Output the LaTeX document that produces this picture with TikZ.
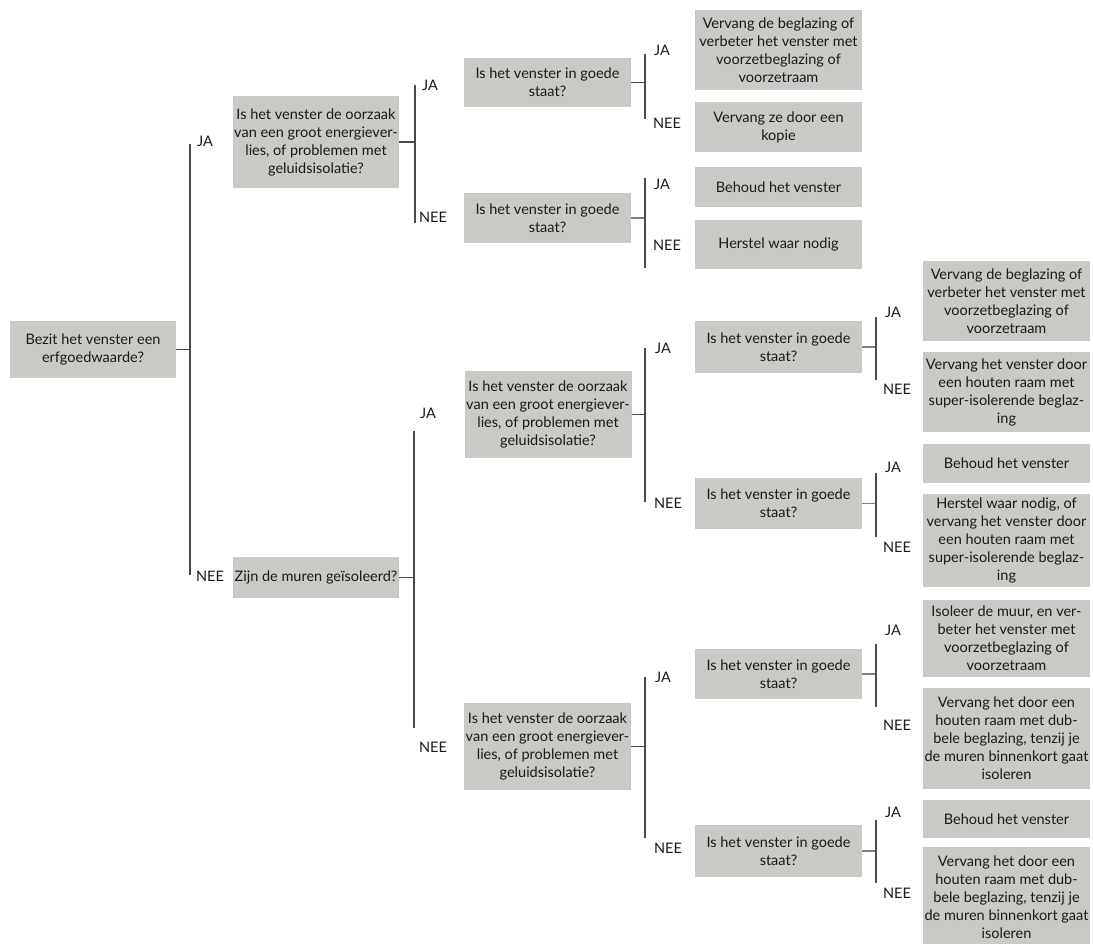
\documentclass[tikz,border=0pt]{standalone}
\usepackage{fontspec}
\setmainfont{Lato}
\definecolor{boxgray}{HTML}{C9CAC6}
\definecolor{linec}{HTML}{4A4A4A}
\definecolor{txt}{HTML}{1A1A1A}
\begin{document}
\begin{tikzpicture}[x=1pt,y=-1pt,
  box/.style={fill=boxgray,text=txt,align=center,inner sep=0pt,
    font=\fontsize{14.5}{18}\selectfont,minimum width=167pt},
  lbl/.style={text=txt,inner sep=0pt,font=\fontsize{14.5}{16}\selectfont},
  conn/.style={draw=linec,line width=1.3pt}]
\useasboundingbox (0,0) rectangle (1093,943);
\fill[white] (0,0) rectangle (1093,943);
\clip (0,0) rectangle (1093,943);

% ---- boxes ----
\node[box,minimum width=166pt,minimum height=57pt] (root) at (93,349.5) {Bezit het venster een\\erfgoedwaarde?};
\node[box,minimum width=166pt,minimum height=92pt] (q1) at (316,142) {Is het venster de oorzaak\\van een groot energiever-\\lies, of problemen met\\geluidsisolatie?};
\node[box,minimum width=166pt,minimum height=41pt] (zijn) at (316,577.5) {Zijn de muren geïsoleerd?};
\node[box,minimum height=87pt] (q2) at (548,414.5) {Is het venster de oorzaak\\van een groot energiever-\\lies, of problemen met\\geluidsisolatie?};
\node[box,minimum height=87pt] (q3) at (547.5,746.5) {Is het venster de oorzaak\\van een groot energiever-\\lies, of problemen met\\geluidsisolatie?};

\node[box,minimum height=49pt] (s1) at (547.5,82.5) {Is het venster in goede\\staat?};
\node[box,minimum height=50pt] (s2) at (547.5,218) {Is het venster in goede\\staat?};
\node[box,minimum height=52pt] (s3) at (778.5,347) {Is het venster in goede\\staat?};
\node[box,minimum height=51pt] (s4) at (778.5,503.5) {Is het venster in goede\\staat?};
\node[box,minimum height=50pt] (s5) at (778.5,674) {Is het venster in goede\\staat?};
\node[box,minimum height=52pt] (s6) at (778.5,851) {Is het venster in goede\\staat?};

\node[box,minimum height=80pt] (t1) at (778.5,50) {Vervang de beglazing of\\verbeter het venster met\\voorzetbeglazing of\\voorzetraam};
\node[box,minimum height=50pt] (t2) at (778.5,127) {Vervang ze door een\\kopie};
\node[box,minimum height=40pt] (t3) at (778.5,187) {Behoud het venster};
\node[box,minimum height=49pt] (t4) at (778.5,244.5) {Herstel waar nodig};

\node[box,minimum height=80pt] (m1) at (1006.5,301) {Vervang de beglazing of\\verbeter het venster met\\voorzetbeglazing of\\voorzetraam};
\node[box,minimum height=80pt] (m2) at (1006.5,392) {Vervang het venster door\\een houten raam met\\super-isolerende beglaz-\\ing};
\node[box,minimum height=39pt] (m3) at (1006.5,463.5) {Behoud het venster};
\node[box,minimum height=93pt] (m4) at (1006.5,540.5) {Herstel waar nodig, of\\vervang het venster door\\een houten raam met\\super-isolerende beglaz-\\ing};

\node[box,minimum height=77pt] (l1) at (1006.5,638.5) {Isoleer de muur, en ver-\\beter het venster met\\voorzetbeglazing of\\voorzetraam};
\node[box,minimum height=101pt] (l2) at (1006.5,738.5) {Vervang het door een\\houten raam met dub-\\bele beglazing, tenzij je\\de muren binnenkort gaat\\isoleren};
\node[box,minimum height=38pt] (l3) at (1006.5,819) {Behoud het venster};
\node[box,minimum height=101pt] (l4) at (1006.5,897.5) {Vervang het door een\\houten raam met dub-\\bele beglazing, tenzij je\\de muren binnenkort gaat\\isoleren};

% ---- junction coordinates ----
\coordinate (v0t) at (190,144);  \coordinate (v0b) at (190,575);
\coordinate (v1t) at (415,85);   \coordinate (v1b) at (415,223);
\coordinate (v2t) at (414,431);  \coordinate (v2b) at (414,728);
\coordinate (v3t) at (645,54);   \coordinate (v3b) at (645,119);
\coordinate (v4t) at (645,178);  \coordinate (v4b) at (645,268);
\coordinate (v5t) at (645,348);  \coordinate (v5b) at (645,502);
\coordinate (v6t) at (645,677);  \coordinate (v6b) at (645,838);
\coordinate (v7t) at (876,317);  \coordinate (v7b) at (876,380);
\coordinate (v8t) at (876,473);  \coordinate (v8b) at (876,537);
\coordinate (v9t) at (876,644);  \coordinate (v9b) at (876,707);
\coordinate (v10t) at (876,820); \coordinate (v10b) at (876,883);

% ---- connectors ----
\draw[conn] (root.east) -- (root.east -| v0t);
\draw[conn] (v0t) -- (v0b);
\draw[conn] (q1.east) -- (q1.east -| v1t);
\draw[conn] (v1t) -- (v1b);
\draw[conn] (zijn.east) -- (zijn.east -| v2t);
\draw[conn] (v2t) -- (v2b);
\draw[conn] (s1.east) -- (s1.east -| v3t);
\draw[conn] (v3t) -- (v3b);
\draw[conn,draw=gray] (s2.east) -- (s2.east -| v4t);
\draw[conn] (v4t) -- (v4b);
\draw[conn] (q2.east) -- (q2.east -| v5t);
\draw[conn] (v5t) -- (v5b);
\draw[conn] (q3.east) -- (q3.east -| v6t);
\draw[conn] (v6t) -- (v6b);
\draw[conn,draw=gray] (s3.east) -- (s3.east -| v7t);
\draw[conn] (v7t) -- (v7b);
\draw[conn,draw=gray] (s4.east) -- (s4.east -| v8t);
\draw[conn] (v8t) -- (v8b);
\draw[conn,draw=gray] (s5.east) -- (s5.east -| v9t);
\draw[conn] (v9t) -- (v9b);
\draw[conn,draw=gray] (s6.east) -- (s6.east -| v10t);
\draw[conn] (v10t) -- (v10b);

% ---- labels ----
\node[lbl] (ja0) at (205,141) {JA};   \node[lbl] (nee0) at (210,576) {NEE};
\node[lbl] (ja1) at (430,85) {JA};    \node[lbl] (nee1) at (433,217) {NEE};
\node[lbl] (ja2) at (428,413) {JA};   \node[lbl] (nee2) at (433,747) {NEE};
\node[lbl] (ja3) at (662,50) {JA};    \node[lbl] (nee3) at (667,123) {NEE};
\node[lbl] (ja4) at (662,184) {JA};   \node[lbl] (nee4) at (667,245) {NEE};
\node[lbl] (ja5) at (663,348) {JA};   \node[lbl] (nee5) at (668,503) {NEE};
\node[lbl] (ja6) at (663,677) {JA};   \node[lbl] (nee6) at (668,848) {NEE};
\node[lbl] (ja7) at (893,312) {JA};   \node[lbl] (nee7) at (897,389) {NEE};
\node[lbl] (ja8) at (893,467) {JA};   \node[lbl] (nee8) at (897,547) {NEE};
\node[lbl] (ja9) at (893,630) {JA};   \node[lbl] (nee9) at (897,725) {NEE};
\node[lbl] (ja10) at (893,812) {JA};  \node[lbl] (nee10) at (897,893) {NEE};
\end{tikzpicture}
\end{document}
